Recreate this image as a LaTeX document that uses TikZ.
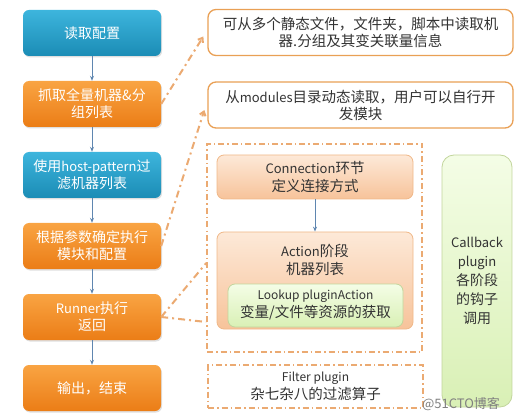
\documentclass[tikz,border=0pt]{standalone}
\usepackage{fontspec}
\setmainfont{Noto Sans CJK SC}
\usetikzlibrary{arrows.meta, positioning, shadows}

\definecolor{bluetop}{HTML}{3DB5DD}
\definecolor{bluebottom}{HTML}{1B8CB5}
\definecolor{orangetop}{HTML}{F9A443}
\definecolor{orangebottom}{HTML}{EB7D16}
\definecolor{noteorange}{HTML}{E9A055}
\definecolor{linkorange}{HTML}{EBAA72}
\definecolor{peachtop}{HTML}{FDE9D8}
\definecolor{peachbottom}{HTML}{F7C39A}
\definecolor{peachline}{HTML}{F0B888}
\definecolor{greentop}{HTML}{F4FDE6}
\definecolor{greenbottom}{HTML}{D9F0B5}
\definecolor{greenline}{HTML}{C2D59C}
\definecolor{arrowblue}{HTML}{5F86B0}
\definecolor{textgray}{HTML}{333333}

\newcommand{\latin}[1]{{\fontsize{13}{17}\selectfont #1}}
\newcommand{\latinsmall}[1]{{\fontsize{12}{16}\selectfont #1}}

\begin{document}
\begin{tikzpicture}[
      x=1pt, y=-1pt,
      node distance=24.6pt,
      flowbox/.style={rectangle, rounded corners=6pt, minimum width=138pt, minimum height=46pt, align=center, text=white,
        font=\fontsize{14}{17}\selectfont, drop shadow={opacity=0.25, shadow xshift=1pt, shadow yshift=-1.5pt}},
      bluebox/.style={flowbox, top color=bluetop, bottom color=bluebottom},
      orangebox/.style={flowbox, top color=orangetop, bottom color=orangebottom},
      notebox/.style={rectangle, draw=noteorange, line width=1.3pt, rounded corners=8pt, fill=white, minimum width=305pt,
        minimum height=46pt, align=center, text=textgray, font=\fontsize{14.5}{17}\selectfont},
      stagebox/.style={rectangle, draw=peachline, line width=0.8pt, rounded corners=7pt, top color=peachtop, bottom color=peachbottom,
        minimum width=196pt, align=center, text=textgray, font=\fontsize{14.5}{18}\selectfont},
      pluginbox/.style={rectangle, draw=greenline, line width=0.8pt, rounded corners=7pt, top color=greentop, bottom color=greenbottom,
        align=center, text=textgray, font=\fontsize{14.5}{18}\selectfont},
      frame/.style={rectangle, draw=linkorange, line width=1.5pt, dash pattern=on 6pt off 3pt on 1.5pt off 3pt},
      flow/.style={-{Stealth[length=5pt, width=4pt]}, draw=arrowblue, line width=0.9pt},
      link/.style={draw=linkorange, line width=2pt, dash pattern=on 7pt off 4pt on 2pt off 4pt},
      linkarrow/.style={link, -{Straight Barb[length=4pt, width=6pt]}}
    ]
    \useasboundingbox (0,0) rectangle (522,414);

    % main flow
    \node[bluebox] (read) at (92,33) {读取配置};
    \node[orangebox, below=of read] (grab) {抓取全量机器\&分\\组列表};
    \node[bluebox, below=of grab] (filter) {使用\latin{host-pattern}过\\滤机器列表};
    \node[orangebox, below=of filter] (decide) {根据参数确定执行\\模块和配置};
    \node[orangebox, below=of decide] (runner) {\latin{Runner}执行\\返回};
    \node[orangebox, below=of runner] (output) {输出，结束};

    \draw[flow] (read) -- (grab);
    \draw[flow] (grab) -- (filter);
    \draw[flow] (filter) -- (decide);
    \draw[flow] (decide) -- (runner);
    \draw[flow] (runner) -- (output);

    % notes
    \node[notebox] (inventory) at (360.5,32.5) {可从多个静态文件，文件夹，脚本中读取机\\器.分组及其变关联量信息};
    \node[notebox] (modules) at (360.5,105) {从\latin{modules}目录动态读取，用户可以自行开\\发模块};

    % runner stages
    \node[frame, minimum width=215pt, minimum height=208pt] (stageframe) at (314.5,248) {};
    \node[stagebox, minimum height=44pt] (connection) at (315,177) {\latin{Connection}环节\\定义连接方式};
    \node[stagebox, minimum height=97pt,
      label={[anchor=north, yshift=-9pt, align=center, text=textgray, font=\fontsize{14.5}{18}\selectfont]north:{\latin{Action}阶段\\机器列表}}]
      (action) at (315,280.5) {};
    \node[pluginbox, minimum width=175pt, minimum height=43pt] (lookup) at (315.5,305.5) {\latinsmall{Lookup pluginAction}\\变量/文件等资源的获取};
    \draw[flow] (connection) -- (action);

    \node[frame, minimum width=215pt, minimum height=43pt, align=center, text=textgray, font=\fontsize{14.5}{18}\selectfont]
      (filterplugin) at (315.5,386.5) {\latinsmall{Filter plugin}\\杂七杂八的过滤算子};

    \node[pluginbox, rounded corners=12pt, minimum width=70pt, minimum height=252pt, font=\fontsize{14}{19}\selectfont]
      (callback) at (477,281) {\latin{Callback}\\\latin{plugin}\\各阶段\\的钩子\\调用};

    % links
    \draw[linkarrow] (grab.east) -- ([xshift=-4pt, yshift=-4pt]inventory.west);
    \draw[linkarrow] (decide.east) -- ([xshift=-3pt, yshift=-5pt]modules.west);
    \draw[link] (runner.east) -- ([yshift=-15pt]stageframe.west);
    \draw[link] (runner.east) -- ([yshift=-74pt]stageframe.west);

    \node[text=gray, font=\fontsize{13}{15}\selectfont] (mark) at (461,404) {@51CTO博客};
\end{tikzpicture}
\end{document}
